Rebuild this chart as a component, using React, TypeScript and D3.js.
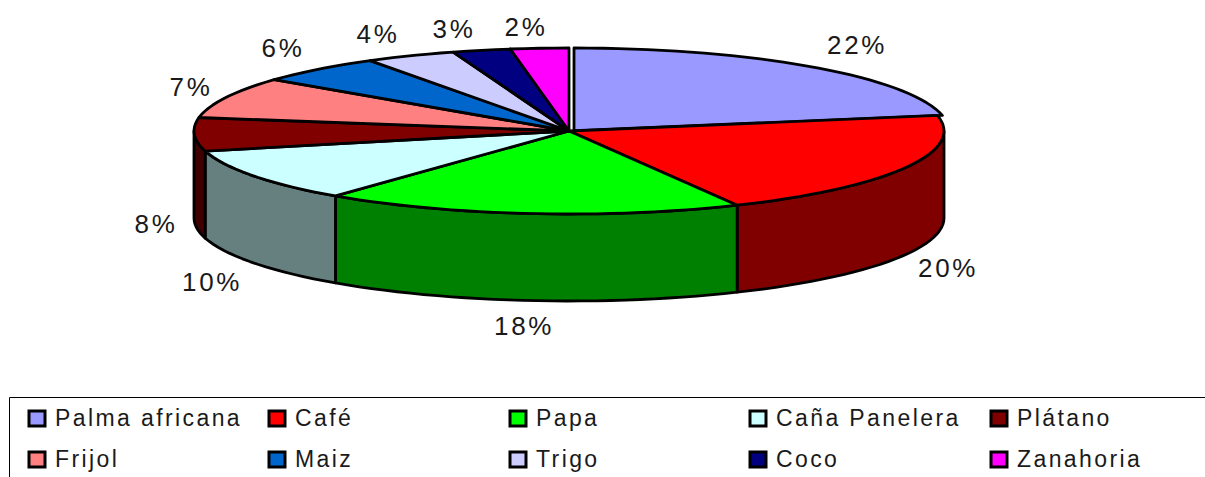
import React from "react";
import * as d3 from "d3";

const categories = ["Palma africana", "Café", "Papa", "Caña Panelera", "Plátano", "Frijol", "Maiz", "Trigo", "Coco", "Zanahoria"];
const values = [22, 20.6, 18.1, 10.4, 6.5, 8, 5.5, 3.9, 2.5, 2.5];
const percentLabels = ["22%", "20%", "18%", "10%", "8%", "7%", "6%", "4%", "3%", "2%"];
const topColors = ["#9999ff", "#ff0000", "#00ff00", "#ccffff", "#800000", "#ff8080", "#0066cc", "#ccccff", "#000080", "#ff00ff"];
const sideColors = ["#4c4c80", "#800000", "#008000", "#668080", "#400000", "#804040", "#003366", "#666680", "#000040", "#800080"];
const labelX = [857, 948, 524, 212, 156, 191, 283, 378, 454, 526];
const labelY = [54, 277, 335, 291, 233, 96, 57, 43, 38, 36];
const legendColX = [29, 269, 510, 750, 991];
const legendRowY = [411, 452];

const W = 1205, H = 477;
const depth = 87;
const x = d3.scaleLinear().domain([-1, 1]).range([194, 944]);
const y = d3.scaleLinear().domain([-1, 1]).range([48, 214]);
const line = d3.line<[number, number]>();
const FONT = "'Liberation Sans', Arial, sans-serif";

const arcs = d3.pie<number>().sort(null)(values);

function arcPoints(a0: number, a1: number, dx: number, dy: number): [number, number][] {
  const n = Math.max(2, Math.ceil((a1 - a0) / 0.04));
  return d3.range(n + 1).map((i) => {
    const t = a0 + ((a1 - a0) * i) / n;
    return [x(Math.sin(t)) + dx, y(-Math.cos(t)) + dy] as [number, number];
  });
}

export default function App() {
  const stroke = { stroke: "#000", strokeWidth: 2.8, strokeLinejoin: "round" as const };
  const sides: React.ReactNode[] = [];
  const tops: React.ReactNode[] = [];
  arcs.forEach((a, i) => {
    const dx = i === 0 ? 5 : 0;
    const lo = Math.max(a.startAngle, Math.PI / 2);
    const hi = Math.min(a.endAngle, (3 * Math.PI) / 2);
    if (hi > lo) {
      const pts = [...arcPoints(lo, hi, dx, 0), ...arcPoints(lo, hi, dx, depth).reverse()];
      sides.push(<path key={i} d={line(pts) + "Z"} fill={sideColors[i]} {...stroke} />);
    }
    const c: [number, number] = [x(0) + dx, y(0)];
    tops.push(<path key={i} d={line([c, ...arcPoints(a.startAngle, a.endAngle, dx, 0)]) + "Z"} fill={topColors[i]} {...stroke} />);
  });
  return (
    <svg width={W} height={H} style={{ position: "absolute", left: 0, top: 0 }} fontFamily={FONT}>
      <rect width={W} height={H} fill="#fff" />
      {sides}
      {tops}
      {percentLabels.map((t, i) => (
        <text key={t} x={labelX[i]} y={labelY[i]} textAnchor="middle" fontSize={26} letterSpacing={2.6} fill="#1a1a1a">{t}</text>
      ))}
      <path d={`M${W},397.5H9.5V${H}`} fill="none" stroke="#000" strokeWidth={1} />
      {categories.map((c, i) => {
        const lx = legendColX[i % 5];
        const ly = legendRowY[Math.floor(i / 5)];
        return (
          <g key={c}>
            <rect x={lx} y={ly} width={16} height={15} fill={topColors[i]} stroke="#000" strokeWidth={3} />
            <text x={lx + 26} y={ly + 15} fontSize={23} letterSpacing={2.4} fill="#1a1a1a">{c}</text>
          </g>
        );
      })}
    </svg>
  );
}
